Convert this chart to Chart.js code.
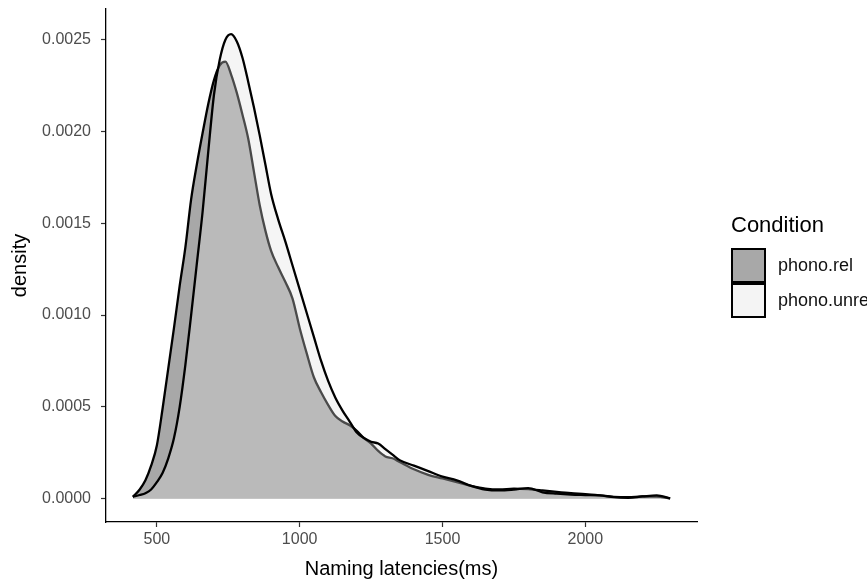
<!DOCTYPE html>
<html>
<head>
<meta charset="utf-8">
<script src="https://cdn.jsdelivr.net/npm/chart.js@4.4.1/dist/chart.umd.min.js"></script>
<style>
  body { margin: 0; width: 867px; height: 585px; overflow: hidden; background: #fff; font-family: "Liberation Sans", Arial, sans-serif; }
  #wrap { position: relative; width: 867px; height: 585px; overflow: hidden; }
  .legend { position: absolute; left: 731px; top: 212px; white-space: nowrap; }
  .legend .title { font-size: 22px; line-height: 26px; color: #000; margin-bottom: 10px; }
  .legend .item { display: flex; align-items: center; height: 35px; }
  .legend .key { box-sizing: border-box; width: 35px; height: 35px; border: 2.6px solid #000; margin-right: 12px; }
  .legend .lab { font-size: 18px; color: #111; }
</style>
</head>
<body>
<div id="wrap">
  <canvas id="grafik" width="867" height="585"></canvas>
  <div class="legend">
    <div class="title">Condition</div>
    <div class="item"><div class="key" style="background:#a8a8a8"></div><span class="lab">phono.rel</span></div>
    <div class="item"><div class="key" style="background:#f4f4f4"></div><span class="lab">phono.unrel</span></div>
  </div>
</div>
<script>
const latency = [416, 440, 460, 480, 500, 520, 540, 560, 580, 600, 620, 640, 660, 680, 700, 720, 740, 760, 780, 800,
  820, 840, 860, 880, 900, 925, 950, 975, 1000, 1025, 1050, 1075, 1100, 1125, 1150, 1175, 1200, 1225, 1250, 1275,
  1300, 1325, 1350, 1400, 1450, 1500, 1550, 1600, 1650, 1700, 1750, 1800, 1850, 1900, 1950, 2000, 2050, 2100, 2150,
  2200, 2250, 2297];

const relDensity = [0.00001, 0.00005, 0.0001, 0.00018, 0.00029, 0.00049, 0.00071, 0.00093, 0.00116, 0.00137,
  0.00163, 0.00182, 0.00199, 0.00215, 0.00228, 0.00236, 0.00238, 0.00231, 0.00221, 0.00209,
  0.00196, 0.00178, 0.0016, 0.00146, 0.00135, 0.00126, 0.00118, 0.00109, 0.00093, 0.00079,
  0.00066, 0.00058, 0.00051, 0.00045, 0.00042, 0.0004, 0.00037, 0.00033, 0.0003, 0.00026,
  0.00023, 0.00022, 0.0002, 0.00016, 0.00013, 0.00011, 0.00009, 0.00007, 0.000055, 0.00005,
  0.000055, 0.000052, 0.000045, 0.000037, 0.00003, 0.000025, 0.000018, 0.00001, 0.000008,
  0.000012, 0.000012, 0.000002];

const unrelDensity = [0.00001, 0.00002, 0.00003, 0.00005, 0.00009, 0.00014, 0.00022, 0.00033, 0.0005, 0.00073,
  0.001, 0.00128, 0.00156, 0.00189, 0.0022, 0.00239, 0.0025, 0.00253, 0.00249, 0.0024,
  0.00227, 0.00213, 0.00198, 0.00182, 0.00166, 0.00152, 0.0014, 0.00127, 0.00114, 0.00101,
  0.00088, 0.00075, 0.00064, 0.00055, 0.00048, 0.00042, 0.00036, 0.00033, 0.00031, 0.0003,
  0.00027, 0.00024, 0.00021, 0.00018, 0.00015, 0.00012, 0.0001, 0.00007, 0.00005, 0.000045,
  0.00005, 0.000058, 0.000035, 0.000027, 0.000022, 0.00002, 0.000018, 0.000008, 0.000005,
  0.000012, 0.000018, 0.000002];

const xTicks = [500, 1000, 1500, 2000];
const yTicks = [0, 0.0005, 0.001, 0.0015, 0.002, 0.0025];

const points = (ys) => latency.map((x, i) => ({ x: x, y: ys[i] }));

const tickFont = { family: "'Liberation Sans', Arial, sans-serif", size: 16 };
const titleFont = { family: "'Liberation Sans', Arial, sans-serif", size: 20 };

new Chart(document.querySelector("#grafik"), {
  type: "line",
  data: {
    datasets: [
      {
        // first dataset is drawn last, so unrel sits on top of rel
        label: "phono.unrel",
        data: points(unrelDensity),
        borderColor: "#000",
        borderWidth: 2.3,
        backgroundColor: "rgba(224,224,224,0.33)",
        fill: "origin",
        pointRadius: 0,
        cubicInterpolationMode: "monotone",
      },
      {
        label: "phono.rel",
        data: points(relDensity),
        borderColor: "#000",
        borderWidth: 2.3,
        backgroundColor: "#a8a8a8",
        fill: "origin",
        pointRadius: 0,
        cubicInterpolationMode: "monotone",
      },
    ],
  },
  options: {
    responsive: false,
    animation: false,
    devicePixelRatio: 1,
    layout: { padding: { top: 9, right: 170, left: 0, bottom: 0 } },
    plugins: { legend: { display: false }, tooltip: { enabled: false } },
    scales: {
      x: {
        type: "linear",
        min: 322,
        max: 2391,
        afterBuildTicks: (s) => { s.ticks = xTicks.map((v) => ({ value: v })); },
        afterFit: (s) => { s.height = 63; s.paddingLeft = 0; s.paddingRight = 0; },
        border: { display: true, color: "#000", width: 1.3 },
        grid: { drawOnChartArea: false, tickLength: 5, tickColor: "#333", tickWidth: 1.2 },
        ticks: { color: "#4d4d4d", font: tickFont, padding: 3, maxRotation: 0, callback: (v) => String(v) },
        title: { display: true, text: "Naming latencies(ms)", color: "#000", font: titleFont, padding: { top: 0 } },
      },
      y: {
        type: "linear",
        min: -0.000127,
        max: 0.002667,
        afterBuildTicks: (s) => { s.ticks = yTicks.map((v) => ({ value: v })); },
        afterFit: (s) => { s.width = 106; s.paddingTop = 0; s.paddingBottom = 0; },
        border: { display: true, color: "#000", width: 1.3 },
        grid: { drawOnChartArea: false, tickLength: 5, tickColor: "#333", tickWidth: 1.2 },
        ticks: { color: "#4d4d4d", font: tickFont, padding: 10, callback: (v) => v.toFixed(4) },
        title: { display: true, text: "density", color: "#000", font: titleFont, padding: { top: 8, bottom: 0 } },
      },
    },
  },
});
</script>
</body>
</html>
